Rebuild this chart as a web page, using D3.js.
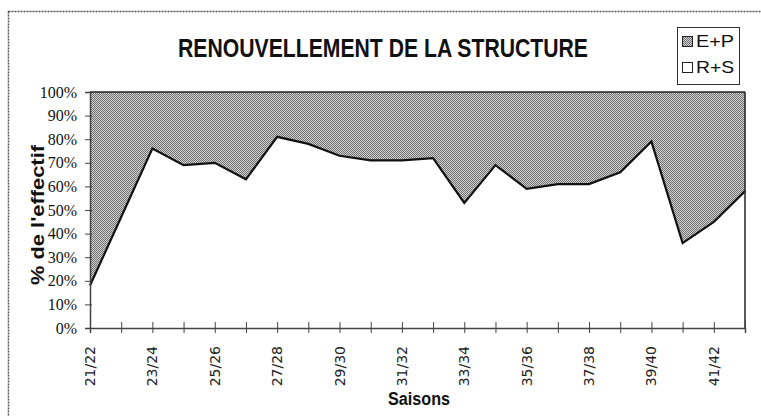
<!DOCTYPE html>
<html>
<head>
<meta charset="utf-8">
<script src="https://cdn.jsdelivr.net/npm/d3@7"></script>
<style>
  html, body { margin: 0; padding: 0; background: #fff; }
  svg { display: block; }
</style>
</head>
<body>
<svg id="chart" width="761" height="416"></svg>
<script>
// ---- data ----
const seasons = ["21/22","22/23","23/24","24/25","25/26","26/27","27/28","28/29","29/30","30/31","31/32",
                 "32/33","33/34","34/35","35/36","36/37","37/38","38/39","39/40","40/41","41/42","42/43"];
const rsValues = [18, 47, 76, 69, 70, 63, 81, 78, 73, 71, 71, 72, 53, 69, 59, 61, 61, 66, 79, 36, 45, 58];
const epValues = [82, 53, 24, 31, 30, 37, 19, 22, 27, 29, 29, 28, 47, 31, 41, 39, 39, 34, 21, 64, 55, 42];
const labeledSeasons = ["21/22","23/24","25/26","27/28","29/30","31/32","33/34","35/36","37/38","39/40","41/42"];
const yTickValues = [0, 10, 20, 30, 40, 50, 60, 70, 80, 90, 100];
const seriesNames = ["E+P", "R+S"];
const titleText = "RENOUVELLEMENT DE LA STRUCTURE";
const xTitle = "Saisons";
const yTitle = "% de l'effectif";

// ---- build ----
const svg = d3.select("#chart");
const plotL = 90, plotR = 745, plotT = 92, plotB = 328;

const table = seasons.map((s, i) => ({ season: s, rs: rsValues[i], ep: epValues[i] }));
const stacked = d3.stack().keys(["rs", "ep"])(table);

const x = d3.scalePoint().domain(seasons).range([plotL, plotR]);
const y = d3.scaleLinear().domain([0, 100]).range([plotB, plotT]);

// pattern (fine checker dither)
const defs = svg.append("defs");
const pat = defs.append("pattern").attr("id", "dots").attr("patternUnits", "userSpaceOnUse")
  .attr("width", 2).attr("height", 2);
pat.append("rect").attr("width", 2).attr("height", 2).attr("fill", "#d2d2d2").attr("shape-rendering", "crispEdges");
pat.append("rect").attr("x", 0).attr("y", 0).attr("width", 1).attr("height", 1).attr("fill", "#707070").attr("shape-rendering", "crispEdges");
pat.append("rect").attr("x", 1).attr("y", 1).attr("width", 1).attr("height", 1).attr("fill", "#707070").attr("shape-rendering", "crispEdges");

// outer border
svg.append("rect").attr("x", 8.5).attr("y", 11.5).attr("width", 800).attr("height", 500)
  .attr("fill", "none").attr("stroke", "#555").attr("stroke-width", 1.5).attr("stroke-dasharray", "2,1");

// areas
const area = d3.area().x(d => x(d.data.season)).y0(d => y(d[0])).y1(d => y(d[1]));
svg.append("path").datum(stacked[1]).attr("d", area).attr("fill", "url(#dots)");
svg.append("path").datum(stacked[0]).attr("d", area).attr("fill", "#fff");

// boundary line of R+S
const line = d3.line().x(d => x(d.data.season)).y(d => y(d[1]));
svg.append("path").datum(stacked[0]).attr("d", line).attr("fill", "none")
  .attr("stroke", "#111").attr("stroke-width", 2.2).attr("stroke-linejoin", "miter");
// top line of E+P (100%)
svg.append("path").datum(stacked[1]).attr("d", line).attr("fill", "none")
  .attr("stroke", "#222").attr("stroke-width", 1.5);

// right edge
svg.append("line").attr("x1", plotR).attr("x2", plotR).attr("y1", plotT).attr("y2", plotB)
  .attr("stroke", "#222").attr("stroke-width", 1.5);

// y axis
const yAxis = d3.axisLeft(y).tickValues(yTickValues).tickFormat(d => d + "%").tickSize(5).tickPadding(8);
const gy = svg.append("g").attr("transform", `translate(${plotL},0)`).call(yAxis);
gy.select(".domain").attr("stroke", "#444").attr("stroke-width", 1.5);
gy.selectAll(".tick line").attr("stroke", "#444").attr("x2", -5).attr("x1", 2);
gy.selectAll(".tick text").attr("font-family", "'Liberation Serif', serif").attr("font-size", 16)
  .attr("fill", "#111");

// x axis
const xAxis = d3.axisBottom(x).tickSize(5).tickPadding(0).tickFormat(() => "");
const gx = svg.append("g").attr("transform", `translate(0,${plotB})`).call(xAxis);
gx.select(".domain").attr("stroke", "#444").attr("stroke-width", 1.5);
gx.selectAll(".tick line").attr("stroke", "#444").attr("y1", -6).attr("y2", 5);

svg.append("g").selectAll("text").data(labeledSeasons).join("text")
  .attr("transform", d => `translate(${x(d) + 5},${plotB + 18}) rotate(-90)`)
  .attr("text-anchor", "end")
  .attr("font-family", "'DejaVu Sans', sans-serif").attr("font-size", 14).attr("fill", "#222")
  .text(d => d);

// titles
svg.append("text").attr("x", 383).attr("y", 57).attr("text-anchor", "middle")
  .attr("font-family", "'Liberation Sans Narrow', 'Liberation Sans', sans-serif")
  .attr("font-weight", "bold").attr("font-size", 26).attr("fill", "#111")
  .attr("textLength", 410).attr("lengthAdjust", "spacingAndGlyphs")
  .text(titleText);

svg.append("text").attr("x", 419).attr("y", 405).attr("text-anchor", "middle")
  .attr("font-family", "'Liberation Sans Narrow', 'Liberation Sans', sans-serif")
  .attr("font-weight", "bold").attr("font-size", 18).attr("fill", "#111")
  .attr("textLength", 62).attr("lengthAdjust", "spacingAndGlyphs")
  .text(xTitle);

svg.append("text").attr("transform", "translate(44,215) rotate(-90)").attr("text-anchor", "middle")
  .attr("font-family", "'Liberation Sans', sans-serif")
  .attr("font-weight", "bold").attr("font-size", 19).attr("fill", "#111")
  .attr("textLength", 140).attr("lengthAdjust", "spacingAndGlyphs")
  .text(yTitle);

// legend
const lg = svg.append("g");
lg.append("rect").attr("x", 677.5).attr("y", 27.5).attr("width", 62).attr("height", 57)
  .attr("fill", "#fff").attr("stroke", "#333").attr("stroke-width", 1);
const legendFills = ["url(#dots)", "#fff"];
seriesNames.forEach((name, i) => {
  const yy = 36 + i * 26;
  lg.append("rect").attr("x", 682.5).attr("y", yy + 0.5).attr("width", 10).attr("height", 10)
    .attr("fill", legendFills[i]).attr("stroke", "#222").attr("stroke-width", 1);
  lg.append("text").attr("x", 696).attr("y", yy + 11)
    .attr("font-family", "'Liberation Sans', sans-serif").attr("font-size", 17).attr("fill", "#111")
    .attr("textLength", 38).attr("lengthAdjust", "spacingAndGlyphs")
    .text(name);
});
</script>
</body>
</html>
